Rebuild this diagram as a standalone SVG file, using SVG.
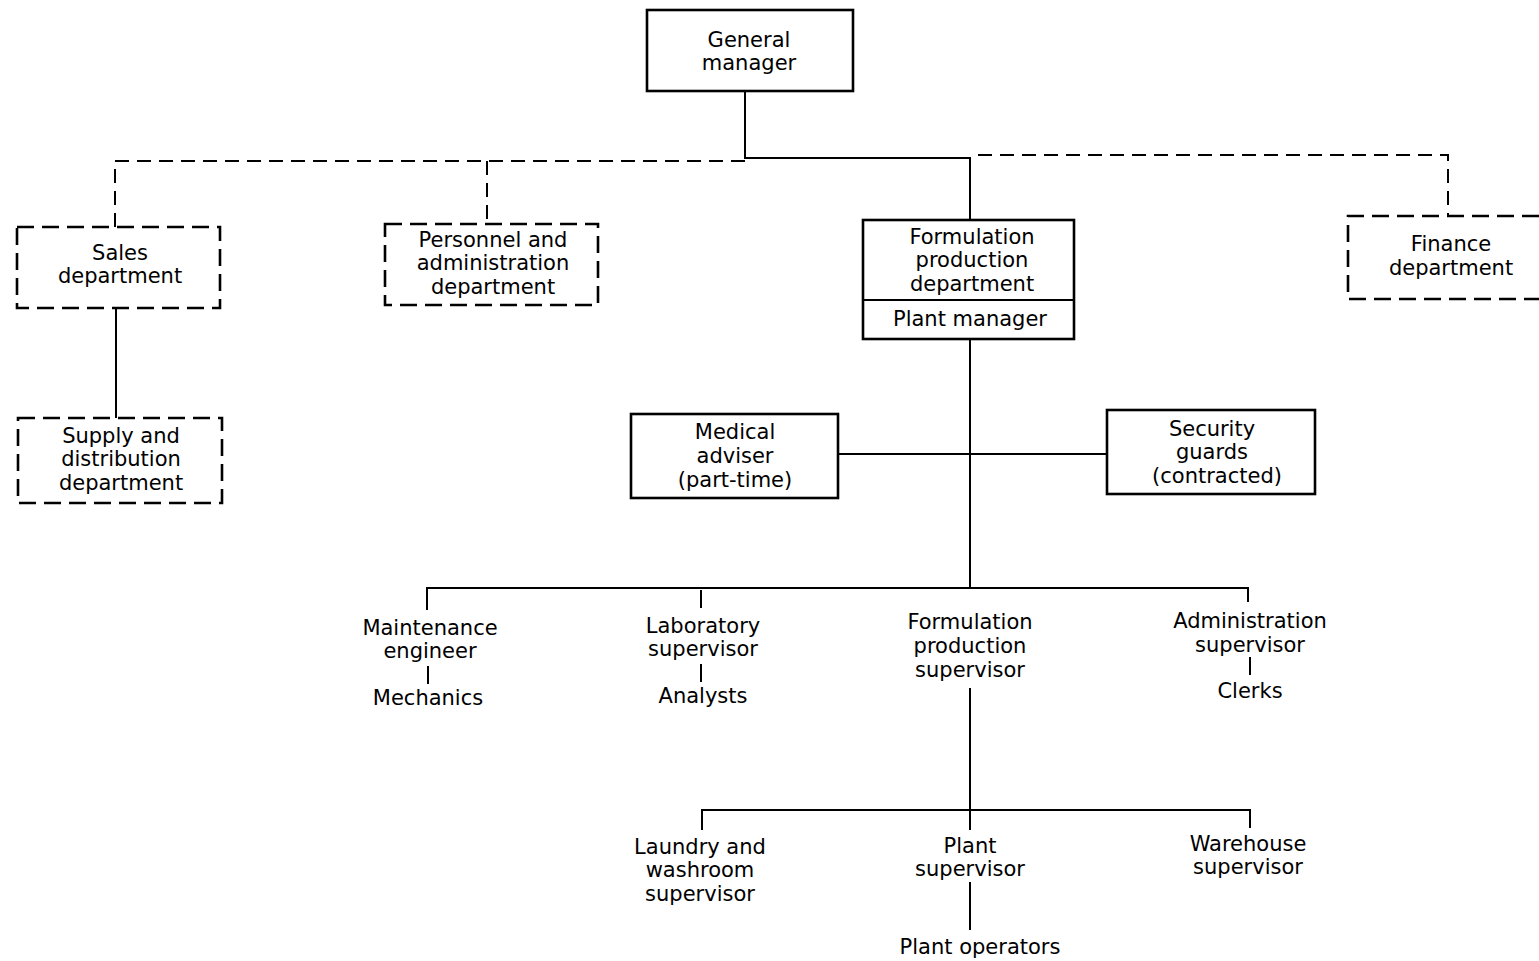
<svg xmlns="http://www.w3.org/2000/svg" width="1539" height="961" viewBox="0 0 1539 961">
<style>
text{font-family:"DejaVu Sans","Liberation Sans",sans-serif;font-size:21px;fill:#000;text-anchor:middle}
.box{fill:#fff;stroke:#000;stroke-width:2.6}
.dbox{fill:#fff;stroke:#000;stroke-width:2.6;stroke-dasharray:17 8}
.ln{fill:none;stroke:#000;stroke-width:2}
.dln{fill:none;stroke:#000;stroke-width:2;stroke-dasharray:14 8}
</style>
<rect width="1539" height="961" fill="#fff"/>
<g id="connectors">
<path class="ln" d="M745 91V158H970V220"/>
<path class="dln" d="M745 161H115V227"/>
<path class="dln" d="M487 161V224"/>
<path class="dln" d="M978 155H1448V216"/>
<path class="ln" d="M116 308V418"/>
<path class="ln" d="M970 339V588"/>
<path class="ln" d="M838 454H1107"/>
<path class="ln" d="M427 610V588H1248V602"/>
<path class="ln" d="M701 590V608"/>
<path class="ln" d="M428 666V684"/>
<path class="ln" d="M701 664V682"/>
<path class="ln" d="M1250 657V675"/>
<path class="ln" d="M970 688V810"/>
<path class="ln" d="M702 830V810H1250V828"/>
<path class="ln" d="M970 810V830"/>
<path class="ln" d="M970 882V930"/>
</g>
<g id="general-manager">
<rect class="box" x="647" y="10" width="206" height="81"/>
<text x="749" y="47">General</text>
<text x="749" y="70">manager</text>
</g>
<g id="sales">
<rect class="dbox" x="17" y="227" width="203" height="81"/>
<text x="120" y="260">Sales</text>
<text x="120" y="283">department</text>
</g>
<g id="personnel">
<rect class="dbox" x="385" y="224" width="213" height="81"/>
<text x="493" y="247">Personnel and</text>
<text x="493" y="270">administration</text>
<text x="493" y="294">department</text>
</g>
<g id="formulation-dept">
<rect class="box" x="863" y="220" width="211" height="119"/>
<path class="ln" d="M863 300H1074" stroke-width="2.6"/>
<text x="972" y="244">Formulation</text>
<text x="972" y="267">production</text>
<text x="972" y="291">department</text>
<text x="970" y="326">Plant manager</text>
</g>
<g id="finance">
<path class="dbox" d="M1539 216H1348V299H1539"/>
<text x="1451" y="251">Finance</text>
<text x="1451" y="275">department</text>
</g>
<g id="supply">
<rect class="dbox" x="18" y="418" width="204" height="85"/>
<text x="121" y="443">Supply and</text>
<text x="121" y="466">distribution</text>
<text x="121" y="490">department</text>
</g>
<g id="medical">
<rect class="box" x="631" y="414" width="207" height="84"/>
<text x="735" y="439">Medical</text>
<text x="735" y="463">adviser</text>
<text x="735" y="487">(part-time)</text>
</g>
<g id="security">
<rect class="box" x="1107" y="410" width="208" height="84"/>
<text x="1212" y="436">Security</text>
<text x="1212" y="459">guards</text>
<text x="1217" y="483">(contracted)</text>
</g>
<g id="maintenance">
<text x="430" y="635">Maintenance</text>
<text x="430" y="658">engineer</text>
</g>
<g id="mechanics"><text x="428" y="705">Mechanics</text></g>
<g id="laboratory">
<text x="703" y="633">Laboratory</text>
<text x="703" y="656">supervisor</text>
</g>
<g id="analysts"><text x="703" y="703">Analysts</text></g>
<g id="formulation-supervisor">
<text x="970" y="629">Formulation</text>
<text x="970" y="653">production</text>
<text x="970" y="677">supervisor</text>
</g>
<g id="administration">
<text x="1250" y="628">Administration</text>
<text x="1250" y="652">supervisor</text>
</g>
<g id="clerks"><text x="1250" y="698">Clerks</text></g>
<g id="laundry">
<text x="700" y="854">Laundry and</text>
<text x="700" y="877">washroom</text>
<text x="700" y="901">supervisor</text>
</g>
<g id="plant-supervisor">
<text x="970" y="853">Plant</text>
<text x="970" y="876">supervisor</text>
</g>
<g id="warehouse">
<text x="1248" y="851">Warehouse</text>
<text x="1248" y="874">supervisor</text>
</g>
<g id="plant-operators"><text x="980" y="954">Plant operators</text></g>
</svg>
